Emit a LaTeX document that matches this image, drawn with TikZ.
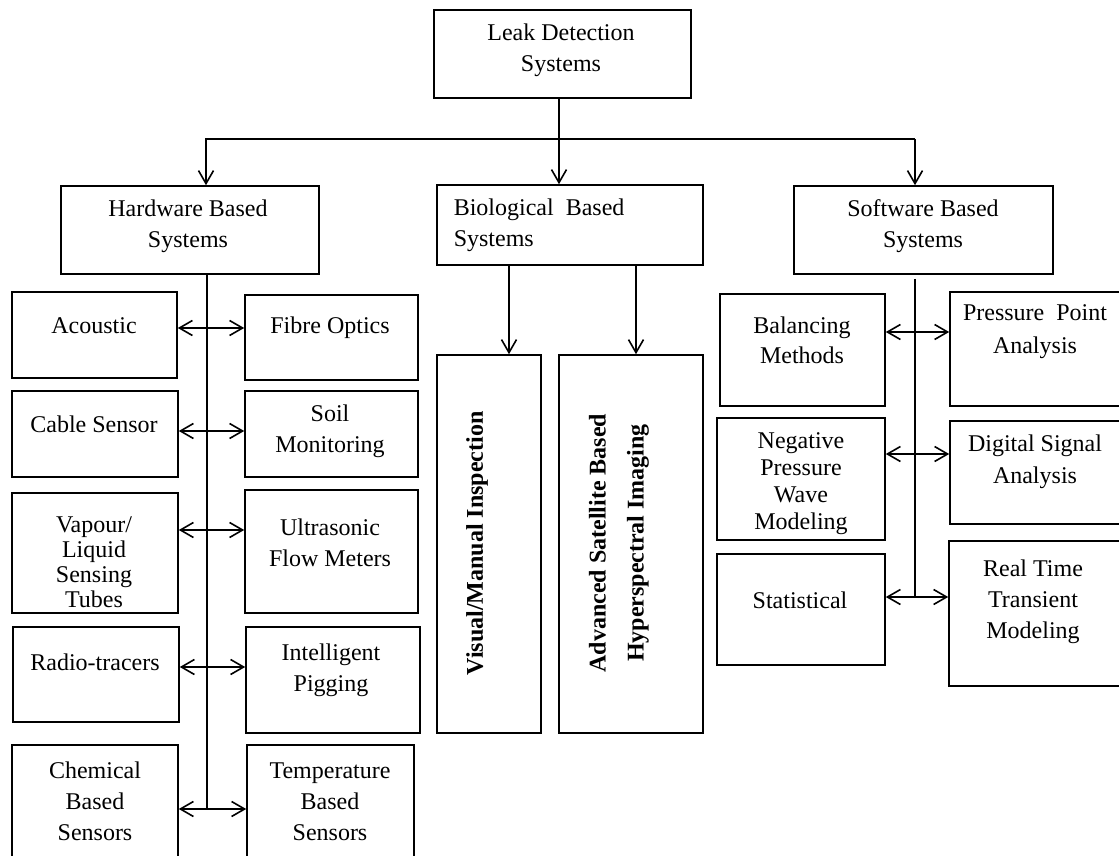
\documentclass[tikz,border=0pt]{standalone}
\usepackage{fontspec}
\setmainfont{Liberation Serif}
\usetikzlibrary{fit,arrows.meta}

\begin{document}
\begin{tikzpicture}[
        x=0.5pt,y=-0.5pt,line width=0.8pt,
        >={Straight Barb[length=6.5pt,width=7.5pt]},
        box/.style={draw,inner sep=0pt},
        txt/.style={inner sep=0pt,align=center,yshift=-1.2pt,font=\fontsize{12}{15.5}\selectfont},
        vtxt/.style={inner sep=0pt,align=center,rotate=90,font=\fontsize{12}{19}\selectfont\bfseries}]

    \useasboundingbox (0,0) rectangle (1119,856);
    \clip (0,0) rectangle (1119,856);

    \node[box,fit={(434,10) (691,98)}] (leak) {};
    \node[txt] (leak-t) at (561,47.5) {Leak Detection\\Systems};

    \node[box,fit={(61,186) (319,274)}] (hw) {};
    \node[txt] (hw-t) at (188,223.5) {Hardware Based\\Systems};
    \node[box,fit={(437,185) (703,265)}] (bio) {};
    \node[txt,align=left,anchor=west] (bio-t) at (453,223) {Biological\ \ Based\\Systems};
    \node[box,fit={(794,186) (1053,274)}] (sw) {};
    \node[txt] (sw-t) at (923,223.5) {Software Based\\Systems};

    \node[box,fit={(12,292) (177,378)}] (acoustic) {};
    \node[txt] (acoustic-t) at (94,323) {Acoustic};
    \node[box,fit={(245,295) (418,380)}] (fibre) {};
    \node[txt] (fibre-t) at (330,325) {Fibre Optics};
    \node[box,fit={(12,391) (178,477)}] (cable) {};
    \node[txt] (cable-t) at (94,422) {Cable Sensor};
    \node[box,fit={(245,391) (418,477)}] (soil) {};
    \node[txt] (soil-t) at (330,429) {Soil\\Monitoring};
    \node[box,fit={(12,493) (178,613)}] (vapour) {};
    \node[txt,font=\fontsize{12}{12.5}\selectfont] (vapour-t) at (94,559.5) {Vapour/\\Liquid\\Sensing\\Tubes};
    \node[box,fit={(245,490) (418,613)}] (ultra) {};
    \node[txt] (ultra-t) at (330,540) {Ultrasonic\\Flow Meters};
    \node[box,fit={(13,627) (179,722)}] (radio) {};
    \node[txt] (radio-t) at (95,660) {Radio-tracers};
    \node[box,fit={(246,627) (420,733)}] (pig) {};
    \node[txt] (pig-t) at (331,667.5) {Intelligent\\Pigging};
    \node[box,fit={(12,745) (178,880)}] (chem) {};
    \node[txt] (chem-t) at (95,799) {Chemical\\Based\\Sensors};
    \node[box,fit={(247,745) (414,880)}] (temp) {};
    \node[txt] (temp-t) at (330,799) {Temperature\\Based\\Sensors};

    \node[box,fit={(437,355) (541,733)}] (visual) {};
    \node[vtxt] (visual-t) at (477,543.5) {Visual/Manual Inspection};
    \node[box,fit={(559,355) (703,733)}] (adv) {};
    \node[vtxt] (adv-t) at (619,543) {Advanced Satellite Based\\Hyperspectral Imaging};

    \node[box,fit={(720,294) (885,406)}] (bal) {};
    \node[txt,font=\fontsize{12}{15}\selectfont] (bal-t) at (802,338) {Balancing\\Methods};
    \node[box,fit={(950,292) (1130,406)}] (ppa) {};
    \node[txt,font=\fontsize{12}{16.5}\selectfont] (ppa-t) at (1035,329.5) {Pressure\ \ Point\\Analysis};
    \node[box,fit={(717,418) (885,540)}] (npw) {};
    \node[txt,font=\fontsize{12}{13.5}\selectfont] (npw-t) at (801,481) {Negative\\Pressure\\Wave\\Modeling};
    \node[box,fit={(950,421) (1130,524)}] (dsa) {};
    \node[txt,font=\fontsize{12}{16}\selectfont] (dsa-t) at (1035,459) {Digital Signal\\Analysis};
    \node[box,fit={(717,554) (885,665)}] (stat) {};
    \node[txt] (stat-t) at (800,598) {Statistical};
    \node[box,fit={(949,541) (1130,686)}] (rtt) {};
    \node[txt] (rtt-t) at (1033,599.5) {Real Time\\Transient\\Modeling};

    \coordinate (jl) at (206,139);
    \coordinate (jm) at (559,139);
    \coordinate (jr) at (915,139);
    \draw[->] (leak.south -| jm) -- (bio.north -| jm);
    \draw[->] (jr) -- (jl) -- (hw.north -| jl);
    \draw[->] (jr) -- (sw.north -| jr);

    \coordinate (b1) at (509,0);
    \coordinate (b2) at (636,0);
    \draw[->] (bio.south -| b1) -- (visual.north -| b1);
    \draw[->] (bio.south -| b2) -- (adv.north -| b2);

    \coordinate (h1) at (207,328);
    \coordinate (h2) at (207,431);
    \coordinate (h3) at (207,530);
    \coordinate (h4) at (207,667);
    \coordinate (h5) at (207,809);
    \draw (hw.south -| h1) -- (h5);
    \draw[<->] (acoustic.east |- h1) -- (fibre.west |- h1);
    \draw[<->] (cable.east |- h2) -- (soil.west |- h2);
    \draw[<->] (vapour.east |- h3) -- (ultra.west |- h3);
    \draw[<->] (radio.east |- h4) -- (pig.west |- h4);
    \draw[<->] (chem.east |- h5) -- (temp.west |- h5);

    \coordinate (s1) at (915,332);
    \coordinate (s2) at (915,454);
    \coordinate (s3) at (915,597);
    \draw[shorten <=2pt] (sw.south -| s1) -- (s3);
    \draw[<->] (bal.east |- s1) -- (ppa.west |- s1);
    \draw[<->] (npw.east |- s2) -- (dsa.west |- s2);
    \draw[<->] (stat.east |- s3) -- (rtt.west |- s3);
\end{tikzpicture}
\end{document}
